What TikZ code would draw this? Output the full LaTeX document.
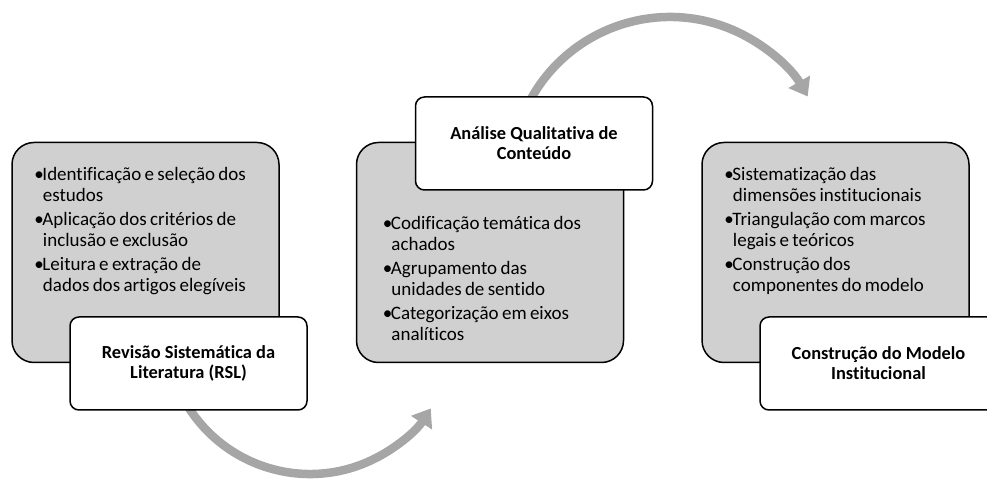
\documentclass[tikz,border=0pt]{standalone}
\usepackage{fontspec}
\setmainfont{Carlito}[Ligatures=NoCommon]
\usetikzlibrary{arrows.meta}

\definecolor{boxgray}{HTML}{D0D0D0}
\definecolor{arrowgray}{HTML}{A6A6A6}

\newcommand{\listfont}{\fontsize{19}{20.5}\selectfont}
\newcommand{\bul}[1]{\hangindent=8.5pt\hangafter=1\makebox[8pt][l]{•}#1\par\vskip 4pt}

\tikzset{
  listbox/.style={draw=black, line width=1.5pt, fill=boxgray, rounded corners=22pt,
    minimum width=267, minimum height=220},
  titlebox/.style={draw=black, line width=1.5pt, fill=white, rounded corners=9pt,
    minimum width=237, minimum height=93, align=center,
    font=\fontsize{18.4}{20}\selectfont\bfseries},
  listtext/.style={anchor=base west, inner sep=0pt, text width=250},
  flowarrow/.style={draw=arrowgray, line width=8.5pt, -{Triangle[width=24pt,length=17pt]}}
}

\begin{document}
\begin{tikzpicture}[x=1pt,y=1pt]
  \useasboundingbox (0,0) rectangle (987,481);
  \clip (0,0) rectangle (987,481);

  % curved arrows, behind the boxes
  \coordinate (low centre) at (310,151);
  \coordinate (high centre) at (670,305);
  \draw[flowarrow] ([shift={(205:144)}]low centre) arc[start angle=205, end angle=327, radius=144];
  \draw[flowarrow] ([shift={(155:159)}]high centre) arc[start angle=155, end angle=30, radius=159];

  % grey boxes
  \node[listbox] (rsl box) at (145.5,228.5) {};
  \node[listbox] (aqc box) at (490,228.5) {};
  \node[listbox] (cmi box) at (835.5,228.5) {};

  \node[listtext] (rsl list) at ([shift={(23,-39)}]rsl box.north west) {\listfont
    \bul{Identificação e seleção dos\newline estudos}
    \bul{Aplicação dos critérios de\newline inclusão e exclusão}
    \bul{Leitura e extração de\newline dados dos artigos elegíveis}};
  \node[listtext] (aqc list) at ([shift={(27,-88)}]aqc box.north west) {\listfont
    \bul{Codificação temática dos\newline achados}
    \bul{Agrupamento das\newline unidades de sentido}
    \bul{Categorização em eixos\newline analíticos}};
  \node[listtext] (cmi list) at ([shift={(23,-39)}]cmi box.north west) {\listfont
    \bul{Sistematização das\newline dimensões institucionais}
    \bul{Triangulação com marcos\newline legais e teóricos}
    \bul{Construção dos\newline componentes do modelo}};

  % white title boxes
  \node[titlebox] (rsl title) at ([shift={(43,-111)}]rsl box.center) {Revisão Sistemática da\\Literatura (RSL)};
  \node[titlebox] (aqc title) at ([shift={(44,109)}]aqc box.center) {Análise Qualitativa de\\Conteúdo};
  \node[titlebox] (cmi title) at ([shift={(43,-111)}]cmi box.center) {Construção do Modelo\\Institucional};
\end{tikzpicture}
\end{document}
